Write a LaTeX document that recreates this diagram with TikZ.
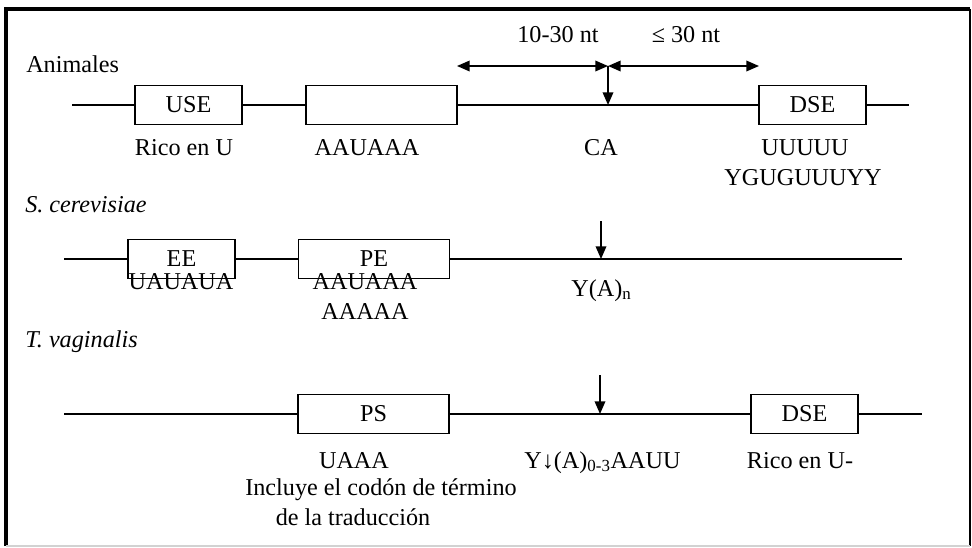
\documentclass[tikz,border=0pt]{standalone}
\usepackage{fontspec}
\setmainfont{Liberation Serif}
\usetikzlibrary{arrows.meta,positioning}

\begin{document}
\begin{tikzpicture}[x=0.025cm,y=-0.025cm,>={Triangle[length=9pt,width=7.5pt]},
  font=\fontsize{17.2}{19}\selectfont,
  elem/.style={draw,line width=1.1pt,minimum height=0.975cm,minimum width=2.675cm,inner sep=0pt},
  longelem/.style={elem,minimum width=3.775cm},
  rna/.style={line width=1.1pt},
  cut/.style={->,line width=1.2pt},
  seq/.style={inner sep=0pt,anchor=base}]
  \useasboundingbox (0,0) rectangle (972,547);
  \coordinate (tl) at (6,9);
  \coordinate (tr) at (970,9);
  \coordinate (br) at (970,546);
  \coordinate (bl) at (6,546);
  \draw[line width=2.4pt] (bl) -- (tl) -- (tr);
  \draw[line width=1.4pt] (tr) -- (br);
  \draw[gray!35,line width=1pt] (bl) -- (br);

  % Animales
  \node[seq,anchor=base west] (ani) at (26,72) {Animales};
  \coordinate (a0) at (72,105);
  \coordinate (a1) at (909,105);
  \node[elem] (use) at (188.5,105) {USE};
  \node[longelem] (pas) at (381.5,105) {};
  \node[elem] (dse) at (812.5,105) {DSE};
  \coordinate (ca) at (608,105);
  \coordinate (catop) at (608,66);
  \coordinate (dleft) at (457,66);
  \coordinate (dright) at (759,66);
  \draw[rna] (a0) -- (use) (use) -- (pas) (pas) -- (dse) (dse) -- (a1);
  \draw[cut] (catop) -- (ca);
  \draw[<->,line width=1.2pt] (dleft) -- (catop);
  \draw[<->,line width=1.2pt] (catop) -- (dright);
  \node[seq] (dist1) at (558,42) {10-30 nt};
  \node[seq] (dist2) at (686,42) {≤ 30 nt};
  \node[seq] (use-s) at (184,155) {Rico en U};
  \node[seq] (pas-s) at (367,155) {AAUAAA};
  \node[seq] (ca-s) at (601,155) {CA};
  \node[seq] (dse-s1) at (805,155) {UUUUU};
  \node[seq] (dse-s2) at (803,185) {YGUGUUUYY};

  % S. cerevisiae
  \node[seq,anchor=base west] (sce) at (25,212) {\itshape S. cerevisiae};
  \coordinate (s0) at (64,259);
  \coordinate (s1) at (902,259);
  \node[elem] (ee) at (181.5,259) {EE};
  \node[longelem] (pe) at (374,259) {PE};
  \coordinate (scut) at (601,259);
  \coordinate (scuttop) at (601,221);
  \draw[rna] (s0) -- (ee) (ee) -- (pe) (pe) -- (s1);
  \draw[cut] (scuttop) -- (scut);
  \node[seq] (ee-s) at (181,289) {UAUAUA};
  \node[seq] (pe-s1) at (365,289) {AAUAAA};
  \node[seq] (pe-s2) at (365,319) {AAAAA};
  \node[seq,anchor=base west] (scut-s) at (571,296) {Y(A)\textsubscript{n}};

  % T. vaginalis
  \node[seq,anchor=base west] (tva) at (25,347) {\itshape T. vaginalis};
  \coordinate (t0) at (64,414);
  \coordinate (t1) at (922,414);
  \node[longelem] (ps) at (373.5,414) {PS};
  \node[elem] (tdse) at (804.5,414) {DSE};
  \coordinate (tcut) at (600,414);
  \coordinate (tcuttop) at (600,375);
  \draw[rna] (t0) -- (ps) (ps) -- (tdse) (tdse) -- (t1);
  \draw[cut] (tcuttop) -- (tcut);
  \node[seq] (ps-s1) at (354,468) {UAAA};
  \node[seq] (ps-s2) at (381,495) {Incluye el codón de término};
  \node[seq] (ps-s3) at (353,525) {de la traducción};
  \node[seq,anchor=base west] (tcut-s) at (524,468) {Y↓(A)\textsubscript{0-3}AAUU};
  \node[seq] (tdse-s) at (800,468) {Rico en U-};
\end{tikzpicture}
\end{document}
